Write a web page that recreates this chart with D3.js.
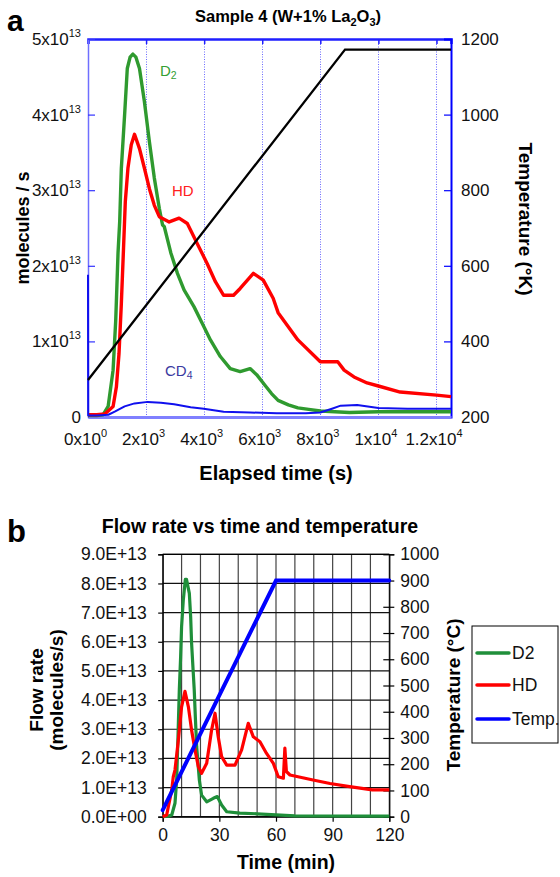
<!DOCTYPE html>
<html>
<head>
<meta charset="utf-8">
<title>Sample 4 desorption</title>
<script src="https://cdn.jsdelivr.net/npm/d3@7"></script>
<style>
body{margin:0;background:#fff;}
svg{font-family:"Liberation Sans",Arial,sans-serif;}
</style>
</head>
<body>
<div id="chart"></div>
<script>
/* ---- panel a : time in s, flux in units of 1e13 molecules/s, temperature in K ---- */
var d2Time = [0,300,522,693,864,955,1034,1091,1148,1261,1353,1450,1545,1650,1773,1943,2114,2284,2455,2567,2625,2853,3080,3307,3648,3932,4216,4557,4898,5240,5581,5808,6093,6320,6546,6900,7228,7600,8000,8500,9000,10000,11000,12500];
var d2Flux = [0.02,0.02,0.03,0.14,0.62,1.28,2.17,2.58,3.29,4.0,4.61,4.76,4.80,4.76,4.61,4.17,3.64,3.16,2.76,2.54,2.52,2.17,1.90,1.68,1.46,1.24,1.02,0.80,0.64,0.60,0.64,0.56,0.42,0.31,0.22,0.16,0.12,0.10,0.08,0.07,0.06,0.07,0.07,0.07];
var hdTime = [0,300,580,864,978,1068,1148,1220,1285,1375,1490,1602,1773,1943,2114,2284,2455,2796,3137,3420,3535,3819,4102,4387,4671,5012,5240,5694,6035,6376,6546,7228,8000,8600,8820,9160,9610,10000,10750,12000,12500];
var hdFlux = [0.03,0.03,0.04,0.14,0.40,0.84,1.50,2.20,2.85,3.29,3.60,3.74,3.55,3.29,3.02,2.80,2.65,2.58,2.63,2.56,2.47,2.25,2.03,1.79,1.61,1.61,1.70,1.90,1.81,1.57,1.38,1.02,0.73,0.73,0.62,0.53,0.45,0.41,0.33,0.29,0.27];
var cd4Time = [0,5,300,700,920,1261,1602,2057,2511,2966,3535,3989,4671,5581,6500,7500,8000,8400,8700,9270,10000,11000,12500];
var cd4Flux = [1.88,0.02,0.02,0.03,0.07,0.14,0.18,0.20,0.19,0.17,0.13,0.11,0.07,0.06,0.05,0.05,0.06,0.11,0.15,0.16,0.12,0.11,0.11];
var tempTimeA = [0,8850,12500];
var tempK = [298,1172,1172];
var xTicksA = [0,2000,4000,6000,8000,10000,12000];
var xTickMant = ["0","2","4","6","8","1","1.2"];
var xTickExp = ["0","3","3","3","3","4","4"];
var yTicksA = [0,1,2,3,4,5];
var tTicksA = [200,400,600,800,1000,1200];

/* ---- panel b : time in min, flow in units of 1e13 molecules/s, temperature in C ---- */
var d2TimeB = [0,3,4.8,6.5,7.4,8.2,8.8,9.5,10.0,10.9,12.0,12.6,14.1,14.8,15.3,16.2,16.7,17.3,18,19.4,20.6,23.3,26.8,28.9,31.2,33.9,40.9,50,60,70,120];
var d2FlowB = [0,0.02,0.06,0.46,1.26,2.97,4.35,5.49,6.52,7.43,8.14,8.14,7.66,6.86,5.95,4.92,4.35,3.4,2.4,1.26,0.74,0.51,0.63,0.69,0.40,0.17,0.12,0.10,0.06,0.03,0.02];
var hdTimeB = [0,2.1,4.8,5.6,6.5,8.3,10.0,11.8,13.6,15.3,17.1,18.9,20.6,23.3,25.9,27.7,29.4,31.2,33.9,38.3,41.8,45.3,48,51.5,55,58.6,61.2,63.9,64.7,65.5,67.4,79.6,88.6,99,111,120];
var hdFlowB = [0,0.06,0.92,1.37,1.6,2.63,3.77,4.3,3.77,2.97,2.29,1.71,1.49,1.83,2.97,3.55,2.74,2.06,1.77,1.77,2.29,3.2,2.74,2.57,2.17,1.83,1.37,1.32,2.35,1.55,1.43,1.26,1.14,1.03,0.92,0.92];
var tempTimeB = [0,60,120];
var tempC = [25,900,900];
var flowTicks = [0,1,2,3,4,5,6,7,8,9];
var flowTickLabels = ["0.0E+00","1.0E+13","2.0E+13","3.0E+13","4.0E+13","5.0E+13","6.0E+13","7.0E+13","8.0E+13","9.0E+13"];
var timeTicksB = [0,30,60,90,120];
var tempTicksB = [0,100,200,300,400,500,600,700,800,900,1000];
var legendNames = ["D2","HD","Temp."];

var svg = d3.select("#chart").append("svg").attr("width",560).attr("height",877);

function zip(a,b){ return a.map(function(v,i){ return [v,b[i]]; }); }

/* ================= panel a ================= */
var xa = d3.scaleLinear().domain([0,12500]).range([88,451]);
var ya = d3.scaleLinear().domain([0,5]).range([417,39]);
var ta = d3.scaleLinear().domain([200,1200]).range([417,39]);

svg.append("text").attr("x",7).attr("y",31).attr("font-size",30).attr("font-weight","bold").text("a");
var ttl = svg.append("text").attr("x",288).attr("y",22).attr("text-anchor","middle")
	.attr("font-size",16.5).attr("font-weight","bold");
ttl.append("tspan").text("Sample 4 (W+1% La");
ttl.append("tspan").attr("font-size",11).attr("dy",4).text("2");
ttl.append("tspan").attr("dy",-4).text("O");
ttl.append("tspan").attr("font-size",11).attr("dy",4).text("3");
ttl.append("tspan").attr("dy",-4).text(")");

/* dotted vertical grid */
svg.append("g").selectAll("line").data(xTicksA.slice(1)).enter().append("line")
	.attr("x1",function(d){return Math.round(xa(d))+0.5;}).attr("x2",function(d){return Math.round(xa(d))+0.5;})
	.attr("y1",39).attr("y2",417)
	.attr("stroke","#6a6aff").attr("stroke-width",1).attr("stroke-dasharray","1,1.5");

/* top frame */
var gTop = svg.append("g").attr("transform","translate(0,39)")
	.call(d3.axisTop(xa).tickValues(xTicksA).tickSize(-5).tickFormat(""));
gTop.select(".domain").attr("stroke","#1f1fff").attr("stroke-width",2.5);
gTop.selectAll(".tick line").attr("stroke","#1f1fff").attr("stroke-width",1.5);

/* left axis */
var gL = svg.append("g").attr("transform","translate(88,0)")
	.call(d3.axisLeft(ya).tickValues(yTicksA).tickSize(-7).tickPadding(7));
gL.attr("font-size",17).attr("font-family",null);
gL.select(".domain").attr("stroke","#6f6fff").attr("stroke-width",1.5);
gL.selectAll(".tick line").attr("stroke","#3333ff").attr("stroke-width",1.2);
gL.selectAll(".tick text").attr("fill","#111").each(function(d){
	var t = d3.select(this); t.text(null);
	if(d === 0){ t.text("0"); return; }
	t.append("tspan").text(d+"x10");
	t.append("tspan").attr("font-size",11).attr("dy",-8).text("13");
});

/* right axis */
var gR = svg.append("g").attr("transform","translate(451,0)")
	.call(d3.axisRight(ta).tickValues(tTicksA).tickSize(-7).tickPadding(10).tickFormat(d3.format("d")));
gR.attr("font-size",17).attr("font-family",null);
gR.select(".domain").attr("stroke","#0000ff").attr("stroke-width",2);
gR.selectAll(".tick line").attr("stroke","#0000ff").attr("stroke-width",1.2);
gR.selectAll(".tick text").attr("fill","#111");

/* bottom axis */
var gB = svg.append("g").attr("transform","translate(0,417)")
	.call(d3.axisBottom(xa).tickValues(xTicksA).tickSize(0).tickPadding(16));
gB.attr("font-size",17).attr("font-family",null);
gB.select(".domain").attr("stroke","#8080ff").attr("stroke-width",3);
gB.selectAll(".tick text").attr("fill","#111").attr("dx",-3).each(function(d,i){
	var t = d3.select(this); t.text(null);
	t.append("tspan").text(xTickMant[i]+"x10");
	t.append("tspan").attr("font-size",11).attr("dy",-8).text(xTickExp[i]);
});

/* series */
var lineA = d3.line().x(function(d){return xa(d[0]);}).y(function(d){return ya(d[1]);});
var lineTA = d3.line().x(function(d){return xa(d[0]);}).y(function(d){return ta(d[1]);});
svg.append("path").attr("d",lineA(zip(d2Time,d2Flux))).attr("fill","none")
	.attr("stroke","#2f9a2f").attr("stroke-width",3.4).attr("stroke-linejoin","round");
svg.append("path").attr("d",lineA(zip(hdTime,hdFlux))).attr("fill","none")
	.attr("stroke","#ff0000").attr("stroke-width",3.4).attr("stroke-linejoin","round");
svg.append("path").attr("d",lineA(zip(cd4Time,cd4Flux))).attr("fill","none")
	.attr("stroke","#1010ee").attr("stroke-width",2).attr("stroke-linejoin","round");
svg.append("path").attr("d",lineTA(zip(tempTimeA,tempK))).attr("fill","none")
	.attr("stroke","#000").attr("stroke-width",2.3);

/* in-plot labels */
function subLabel(x,y,main,sub,color){
	var t = svg.append("text").attr("x",x).attr("y",y).attr("font-size",15).attr("fill",color);
	t.append("tspan").text(main);
	t.append("tspan").attr("font-size",10.5).attr("dy",3).text(sub);
}
subLabel(160,76,"D","2","#33a033");
svg.append("text").attr("x",172).attr("y",196).attr("font-size",15).attr("fill","#ff2020").text("HD");
subLabel(165,376,"CD","4","#3a3aa0");

/* axis titles */
svg.append("text").attr("transform","translate(29,228) rotate(-90)").attr("text-anchor","middle")
	.attr("font-size",18).attr("font-weight","bold").text("molecules / s");
svg.append("text").attr("transform","translate(519,219) rotate(90)").attr("text-anchor","middle")
	.attr("font-size",19).attr("font-weight","bold").text("Temperature (\u00b0K)");
svg.append("text").attr("x",276).attr("y",480).attr("text-anchor","middle")
	.attr("font-size",20).attr("font-weight","bold").text("Elapsed time (s)");

/* ================= panel b ================= */
var xb = d3.scaleLinear().domain([0,120]).range([162.7,389.3]);
var yb = d3.scaleLinear().domain([0,9]).range([816.7,554.3]);
var tb = d3.scaleLinear().domain([0,1000]).range([816.7,554.3]);

svg.append("text").attr("x",7).attr("y",542).attr("font-size",31).attr("font-weight","bold").text("b");
svg.append("text").attr("x",260).attr("y",533).attr("text-anchor","middle")
	.attr("font-size",19.5).attr("font-weight","bold").text("Flow rate vs time and temperature");

/* grid */
svg.append("g").selectAll("line").data(d3.range(0,121,10)).enter().append("line")
	.attr("x1",function(d){return xb(d);}).attr("x2",function(d){return xb(d);})
	.attr("y1",554.3).attr("y2",816.7).attr("stroke","#444").attr("stroke-width",1.2);
svg.append("g").selectAll("line").data(flowTicks).enter().append("line")
	.attr("x1",162.7).attr("x2",389.3)
	.attr("y1",function(d){return yb(d);}).attr("y2",function(d){return yb(d);})
	.attr("stroke","#111").attr("stroke-width",1.2);

var gLB = svg.append("g").attr("transform","translate(162.7,0)")
	.call(d3.axisLeft(yb).tickValues(flowTicks).tickSize(4.5).tickPadding(11.5)
		.tickFormat(function(d,i){ return flowTickLabels[i]; }));
gLB.attr("font-size",17.5).attr("font-family",null);
gLB.selectAll("text").attr("fill","#111");
gLB.selectAll(".tick line, .domain").attr("stroke","#000").attr("stroke-width",1.2);

var gBB = svg.append("g").attr("transform","translate(0,816.7)")
	.call(d3.axisBottom(xb).tickValues(timeTicksB).tickSize(5).tickPadding(7));
gBB.attr("font-size",17.5).attr("font-family",null);
gBB.selectAll("text").attr("fill","#111");
gBB.selectAll(".tick line, .domain").attr("stroke","#000").attr("stroke-width",1.2);

var gRB = svg.append("g").attr("transform","translate(389.3,0)")
	.call(d3.axisRight(tb).tickValues(tempTicksB).tickSize(5).tickPadding(6).tickFormat(d3.format("d")));
gRB.attr("font-size",17.5).attr("font-family",null);
gRB.selectAll("text").attr("fill","#111");
gRB.selectAll(".tick line").attr("x1",-6).attr("stroke","#000").attr("stroke-width",1.2);
gRB.select(".domain").attr("stroke","#000").attr("stroke-width",1.2);

svg.append("line").attr("x1",162.7).attr("x2",389.3).attr("y1",554.3).attr("y2",554.3)
	.attr("stroke","#000").attr("stroke-width",1.2);

var lineB = d3.line().x(function(d){return xb(d[0]);}).y(function(d){return yb(d[1]);});
var lineTB = d3.line().x(function(d){return xb(d[0]);}).y(function(d){return tb(d[1]);});
var colorsB = ["#1f8f3a","#ff0000","#0000ff"];
svg.append("path").attr("d",lineB(zip(d2TimeB,d2FlowB))).attr("fill","none")
	.attr("stroke",colorsB[0]).attr("stroke-width",3.2).attr("stroke-linejoin","round");
svg.append("path").attr("d",lineB(zip(hdTimeB,hdFlowB))).attr("fill","none")
	.attr("stroke",colorsB[1]).attr("stroke-width",3.2).attr("stroke-linejoin","round");
svg.append("path").attr("d",lineTB(zip(tempTimeB,tempC))).attr("fill","none")
	.attr("stroke",colorsB[2]).attr("stroke-width",4).attr("stroke-linecap","round");

/* axis titles */
svg.append("text").attr("transform","translate(43,690) rotate(-90)").attr("text-anchor","middle")
	.attr("font-size",19).attr("font-weight","bold").text("Flow rate");
svg.append("text").attr("transform","translate(63,690) rotate(-90)").attr("text-anchor","middle")
	.attr("font-size",19).attr("font-weight","bold").text("(molecules/s)");
svg.append("text").attr("transform","translate(460,695) rotate(-90)").attr("text-anchor","middle")
	.attr("font-size",19).attr("font-weight","bold").text("Temperature (\u00b0C)");
svg.append("text").attr("x",286).attr("y",869).attr("text-anchor","middle")
	.attr("font-size",19.5).attr("font-weight","bold").text("Time (min)");

/* legend */
var lg = svg.append("g").attr("transform","translate(472,626)");
lg.append("rect").attr("width",86).attr("height",117).attr("fill","#fff").attr("stroke","#000").attr("stroke-width",1);
var items = lg.selectAll("g.item").data(legendNames).enter().append("g")
	.attr("transform",function(d,i){ return "translate(0,"+[27,59,93][i]+")"; });
items.append("line").attr("x1",5).attr("x2",37).attr("stroke",function(d,i){return colorsB[i];})
	.attr("stroke-width",3.5).attr("stroke-linecap","round");
items.append("text").attr("x",40).attr("y",6).attr("font-size",17.5).attr("fill","#111").text(function(d){return d;});
</script>
</body>
</html>
